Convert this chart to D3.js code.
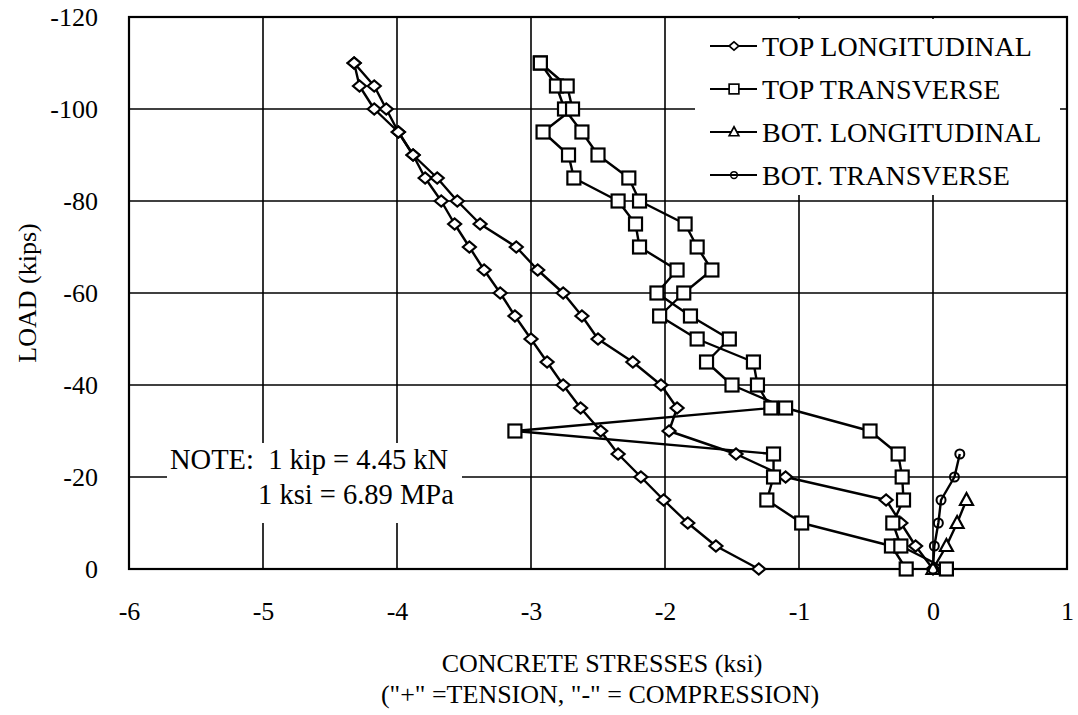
<!DOCTYPE html>
<html>
<head>
<meta charset="utf-8">
<script src="https://cdn.jsdelivr.net/npm/d3@7"></script>
<style>
  html, body { margin: 0; padding: 0; background: #fff; }
  svg { display: block; }
  text { font-family: "Liberation Serif", "Times New Roman", serif; fill: #000; }
</style>
</head>
<body>
<svg id="chart" width="1078" height="715"></svg>
<script>
// ---------- DATA ----------
const loads = [0, -5, -10, -15, -20, -25, -30, -35, -40, -45, -50, -55, -60, -65, -70, -75, -80, -85, -90, -95, -100, -105, -110];

const topLongA = [-1.30, -1.62, -1.83, -2.01, -2.18, -2.35, -2.48, -2.63, -2.76, -2.88, -3.00, -3.12, -3.23, -3.35, -3.46, -3.57, -3.67, -3.79, -3.88, -3.99, -4.17, -4.28, -4.32];
const topLongB = [0.00, -0.13, -0.24, -0.35, -1.10, -1.47, -1.97, -1.91, -2.03, -2.24, -2.50, -2.62, -2.76, -2.95, -3.11, -3.38, -3.55, -3.70, -3.88, -3.99, -4.08, -4.17, -4.32];
const topTransA = [-0.20, -0.31, -0.98, -1.24, -1.19, -1.19, -3.12, -1.21, -1.31, -1.34, -1.76, -2.04, -1.86, -1.65, -1.76, -1.85, -2.19, -2.27, -2.50, -2.62, -2.75, -2.81, -2.93];
const topTransB = [0.10, -0.24, -0.30, -0.22, -0.23, -0.26, -0.47, -1.10, -1.50, -1.69, -1.52, -1.81, -2.06, -1.91, -2.19, -2.22, -2.35, -2.68, -2.72, -2.91, -2.69, -2.73, -2.93];
const botLongLoads = [0, -5, -10, -15];
const botLong = [0.00, 0.10, 0.18, 0.25];
const botTransLoads = [0, -5, -10, -15, -20, -25];
const botTrans = [0.00, 0.01, 0.04, 0.06, 0.16, 0.20];

const xTicks = [-6, -5, -4, -3, -2, -1, 0, 1];
const yTicks = [0, -20, -40, -60, -80, -100, -120];
const legendLabels = ["TOP LONGITUDINAL", "TOP TRANSVERSE", "BOT. LONGITUDINAL", "BOT. TRANSVERSE"];
const xTitle1 = "CONCRETE STRESSES (ksi)";
const xTitle2 = "(\"+\" =TENSION, \"-\" = COMPRESSION)";
const yTitle = "LOAD (kips)";
const note1 = "NOTE:  1 kip = 4.45 kN";
const note2 = "1 ksi = 6.89 MPa";

// ---------- SCALES ----------
const svg = d3.select("#chart");
const x = d3.scaleLinear().domain([-6, 1]).range([129, 1067]);
const y = d3.scaleLinear().domain([0, -120]).range([569, 17]);

const series = [
  { vals: topLongA, loads: loads, marker: "diamond" },
  { vals: topLongB, loads: loads, marker: "diamond" },
  { vals: topTransA, loads: loads, marker: "square" },
  { vals: topTransB, loads: loads, marker: "square" },
  { vals: botLong, loads: botLongLoads, marker: "triangle" },
  { vals: botTrans, loads: botTransLoads, marker: "small" }
];

// ---------- GRID ----------
const grid = svg.append("g");
grid.selectAll("line.v").data(xTicks.slice(1, -1)).join("line")
  .attr("x1", d => x(d)).attr("x2", d => x(d))
  .attr("y1", y(-120)).attr("y2", y(0))
  .attr("stroke", "#000").attr("stroke-width", 1.6);
grid.selectAll("line.h").data(yTicks.slice(1, -1)).join("line")
  .attr("x1", x(-6)).attr("x2", x(1))
  .attr("y1", d => y(d)).attr("y2", d => y(d))
  .attr("stroke", "#000").attr("stroke-width", 1.6);

// white boxes (legend & note) covering grid
svg.append("rect").attr("x", 695).attr("y", y(-120) + 2).attr("width", 365).attr("height", 176).attr("fill", "#fff");
svg.append("rect").attr("x", 167).attr("y", 443).attr("width", 295).attr("height", 80).attr("fill", "#fff");

// border
svg.append("rect").attr("x", x(-6)).attr("y", y(-120))
  .attr("width", x(1) - x(-6)).attr("height", y(0) - y(-120))
  .attr("fill", "none").attr("stroke", "#000").attr("stroke-width", 2.2);

// ---------- AXES ----------
const fmt = d => String(d);
const yAxis = svg.append("g").attr("transform", `translate(${x(-6)},0)`)
  .call(d3.axisLeft(y).tickValues(yTicks).tickSize(0).tickPadding(31).tickFormat(fmt));
yAxis.select(".domain").remove();
yAxis.selectAll("text").style("font-family", "'Liberation Serif', serif").style("font-size", "26px").attr("fill", "#000");

const xAxis = svg.append("g").attr("transform", `translate(0,${y(0)})`)
  .call(d3.axisBottom(x).tickValues(xTicks).tickSize(0).tickPadding(33).tickFormat(fmt));
xAxis.select(".domain").remove();
xAxis.selectAll("text").style("font-family", "'Liberation Serif', serif").style("font-size", "26px").attr("fill", "#000");

svg.append("text").attr("x", 602).attr("y", 672).attr("text-anchor", "middle")
  .style("font-size", "26px").text(xTitle1);
svg.append("text").attr("x", 600).attr("y", 703).attr("text-anchor", "middle")
  .style("font-size", "26px").text(xTitle2);
svg.append("text").attr("transform", `translate(36,${(y(0) + y(-120)) / 2}) rotate(-90)`)
  .attr("text-anchor", "middle").style("font-size", "26px").text(yTitle);

// note
svg.append("text").attr("x", 170).attr("y", 469).style("font-size", "28.5px")
  .attr("xml:space", "preserve").style("white-space", "pre").text(note1);
svg.append("text").attr("x", 258).attr("y", 504).style("font-size", "28.5px").text(note2);

// ---------- MARKERS ----------
function drawMarker(g, type, cx, cy) {
  if (type === "diamond") {
    g.append("path").attr("d", `M${cx - 6.5},${cy} L${cx},${cy - 5.5} L${cx + 6.5},${cy} L${cx},${cy + 5.5} Z`)
      .attr("fill", "#fff").attr("stroke", "#000").attr("stroke-width", 2.2);
  } else if (type === "square") {
    g.append("rect").attr("x", cx - 6.5).attr("y", cy - 6.5).attr("width", 13).attr("height", 13)
      .attr("fill", "#fff").attr("stroke", "#000").attr("stroke-width", 2.2);
  } else if (type === "triangle") {
    g.append("path").attr("d", `M${cx},${cy - 7} L${cx + 6.5},${cy + 5} L${cx - 6.5},${cy + 5} Z`)
      .attr("fill", "#fff").attr("stroke", "#000").attr("stroke-width", 2.2);
  } else {
    g.append("circle").attr("cx", cx).attr("cy", cy).attr("r", 4.5)
      .attr("fill", "none").attr("stroke", "#000").attr("stroke-width", 2);
  }
}

// ---------- SERIES ----------
const line = d3.line().x(d => x(d[0])).y(d => y(d[1]));
const dataG = svg.append("g");
series.forEach(s => {
  const pts = s.vals.map((v, i) => [v, s.loads[i]]);
  dataG.append("path").datum(pts).attr("d", line)
    .attr("fill", "none").attr("stroke", "#000").attr("stroke-width", 2.4).attr("stroke-linejoin", "round");
});
series.forEach(s => {
  const g = dataG.append("g");
  s.vals.forEach((v, i) => drawMarker(g, s.marker, x(v), y(s.loads[i])));
});

// ---------- LEGEND ----------
const legendTypes = ["diamond", "square", "triangle", "small"];
const legendY = [46, 89, 132, 175];
const lg = svg.append("g");
legendLabels.forEach((lab, i) => {
  const ly = legendY[i];
  lg.append("line").attr("x1", 710).attr("x2", 757).attr("y1", ly).attr("y2", ly)
    .attr("stroke", "#000").attr("stroke-width", 2);
  const mg = lg.append("g").attr("transform", `translate(734,${ly}) scale(0.75) translate(-734,${-ly})`);
  drawMarker(mg, legendTypes[i], 734, ly);
  lg.append("text").attr("x", 762).attr("y", ly + 10).style("font-size", "28px").text(lab);
});
</script>
</body>
</html>
